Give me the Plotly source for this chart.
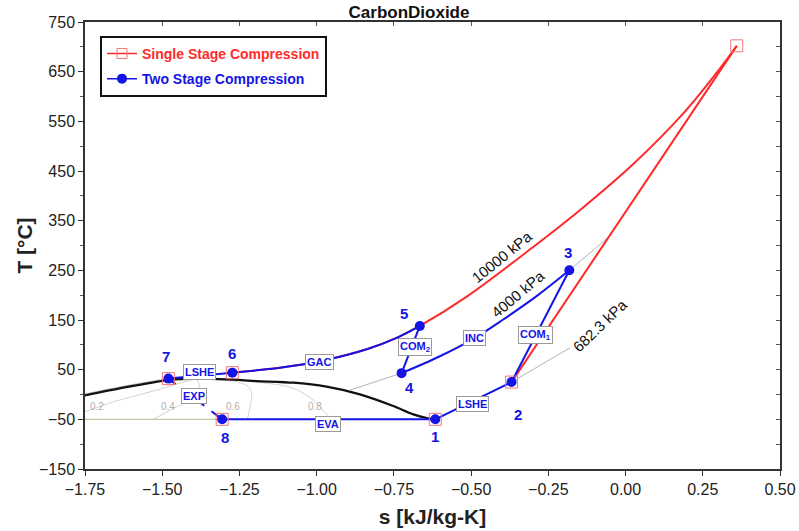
import plotly.graph_objects as go

FONT = "Arial, Liberation Sans, sans-serif"
BLUE = "#1414e6"
RED = "#ff2a2a"
PINK = "#f07878"
GRAY = "#b4b4b4"
QGRAY = "#d2d2d2"

# ---- state points of the two-stage cycle: s [kJ/kg-K], T [°C] ----
state_ids = ["1", "2", "3", "4", "5", "6", "7", "8"]
state_s = [-0.616, -0.369, -0.182, -0.725, -0.666, -1.273, -1.480, -1.306]
state_T = [-50.0, 25.0, 250.0, 43.0, 138.0, 44.0, 32.0, -50.0]

# ---- single-stage state markers (1, 2, discharge, 6, 7, 8) ----
single_s = [-0.616, -0.369, 0.360, -1.273, -1.480, -1.306]
single_T = [-50.0, 25.0, 702.0, 44.0, 32.0, -50.0]

# single-stage compression 2 -> discharge
comp_s = [-0.369, 0.360]
comp_T = [25.0, 702.0]

# 10000 kPa isobar: discharge -> state 5 -> state 6
hp_s = [0.360, 0.295, 0.187, 0.025, -0.148, -0.299, -0.514, -0.666,
        -0.741, -0.838, -0.989, -1.119, -1.273]
hp_T = [702, 648, 566, 464, 371, 297, 197, 138, 114, 91, 67, 54, 44]

# intercooler 3 -> 4 along 4000 kPa
inc_s = [-0.182, -0.288, -0.396, -0.490, -0.601, -0.725]
inc_T = [250, 198, 151, 113, 77, 43]

# saturation dome
dome_s = [-1.75, -1.626, -1.480, -1.388, -1.291, -1.194, -1.076, -0.968,
          -0.860, -0.752, -0.687, -0.640, -0.616]
dome_T = [-2.0, 13.7, 29.0, 31.8, 30.4, 27.0, 23.8, 15.7, 0.2, -23.3, -40.0,
          -48.0, -50.0]

# grey isobar extensions
hp_liq_s = [-1.75, -1.626, -1.480]
hp_liq_T = [1.0, 16.5, 32.0]
mp_low_s = [-0.892, -0.725]
mp_low_T = [9.0, 43.0]
mp_high_s = [-0.182, -0.045]
mp_high_T = [250.0, 322.0]
lp_s = [-0.369, -0.180]
lp_T = [25.0, 94.0]
lp_wet_s = [-1.75, -1.306]
lp_wet_T = [-50.0, -50.0]

# constant-quality lines
quality_labels = ["0.2", "0.4", "0.6", "0.8"]
q_s = [
    [-1.75, -1.66, -1.57, -1.49, -1.42, -1.39],
    [-1.529, -1.47, -1.41, -1.385, -1.38, -1.39],
    [-1.224, -1.215, -1.21, -1.22, -1.25, -1.30, -1.39],
    [-0.951, -0.99, -1.012, -1.077, -1.183, -1.30, -1.39],
]
q_T = [
    [-35, -15, 0, 14, 27, 31.8],
    [-50, -30, -10, 5, 20, 31.8],
    [-50, -20, 0, 15, 24, 29, 31.8],
    [-50, -25, -11, 13, 24, 30, 31.8],
]
q_label_s = [-1.712, -1.480, -1.272, -1.005]
q_label_T = [-24, -24, -24, -24]

fig = go.Figure()


def line(x, y, color, width, dash="solid", shape="linear", smoothing=1.0):
    ln = dict(color=color, width=width, dash=dash, shape=shape)
    if shape == "spline":
        ln["smoothing"] = smoothing
    fig.add_trace(go.Scatter(
        x=x, y=y, mode="lines", showlegend=False, hoverinfo="skip", line=ln))


# background property lines
for qs, qt in zip(q_s, q_T):
    line(qs, qt, QGRAY, 1, shape="spline")
line(lp_wet_s, lp_wet_T, "#c3c8a0", 1.2)
line(hp_liq_s, hp_liq_T, GRAY, 1, shape="spline")
line(mp_low_s, mp_low_T, GRAY, 1)
line(mp_high_s, mp_high_T, GRAY, 1)
line(lp_s, lp_T, GRAY, 1)
line(dome_s, dome_T, "#111111", 2.2, shape="spline", smoothing=0.7)

# single-stage cycle
line(comp_s, comp_T, RED, 2)
line(hp_s, hp_T, RED, 2, shape="spline")

# two-stage cycle
S = dict(zip(state_ids, zip(state_s, state_T)))
line([S["1"][0], S["2"][0]], [S["1"][1], S["2"][1]], BLUE, 2)
line([S["2"][0], S["3"][0]], [S["2"][1], S["3"][1]], BLUE, 2)
line(inc_s, inc_T, BLUE, 2, shape="spline")
line([S["4"][0], S["5"][0]], [S["4"][1], S["5"][1]], BLUE, 2)
gac_start = hp_s.index(S["5"][0])
line(hp_s[gac_start:], hp_T[gac_start:], BLUE, 2, shape="spline")
line([S["6"][0], S["7"][0]], [S["6"][1], S["7"][1]], BLUE, 2)
line([S["7"][0], S["8"][0]], [S["7"][1], S["8"][1]], BLUE, 2, dash="dash")
line([S["8"][0], S["1"][0]], [S["8"][1], S["1"][1]], BLUE, 2)

# state markers
fig.add_trace(go.Scatter(
    x=single_s, y=single_T, mode="markers", showlegend=False, hoverinfo="skip",
    marker=dict(symbol="square-open", size=12, color=PINK, line=dict(width=1))))
fig.add_trace(go.Scatter(
    x=state_s, y=state_T, mode="markers", showlegend=False, hoverinfo="skip",
    marker=dict(symbol="circle", size=10, color=BLUE)))

# legend entries
fig.add_trace(go.Scatter(
    x=[None], y=[None], mode="lines+markers", legendgroup="a",
    name=f"<span style='color:{RED}'><b>Single Stage Compression</b></span>",
    line=dict(color=RED, width=1.5),
    marker=dict(symbol="square-open", size=10, color=PINK, line=dict(width=1))))
fig.add_trace(go.Scatter(
    x=[None], y=[None], mode="lines+markers", legendgroup="b",
    name=f"<span style='color:{BLUE}'><b>Two Stage Compression</b></span>",
    line=dict(color=BLUE, width=1.5),
    marker=dict(symbol="circle", size=10, color=BLUE)))

# mirrored frame axes (top / right)
fig.add_trace(go.Scatter(x=[None], y=[None], xaxis="x2", yaxis="y2",
                         showlegend=False, hoverinfo="skip"))

annotations = []

# state numbers
num_shift = {"1": (0, -17), "2": (6, -32), "3": (-1, 18), "4": (8, -14),
             "5": (-16, 12), "6": (0, 19), "7": (-2, 22), "8": (3, -18)}
for sid, s, t in zip(state_ids, state_s, state_T):
    dx, dy = num_shift[sid]
    annotations.append(dict(x=s, y=t, text=f"<b>{sid}</b>", showarrow=False,
                            xshift=dx, yshift=dy,
                            font=dict(family=FONT, size=15, color=BLUE)))

# process tags
process_tags = [
    ("LSHE", -0.494, -18.5), ("COM<sub>1</sub>", -0.290, 119.4),
    ("INC", -0.488, 112.8), ("COM<sub>2</sub>", -0.682, 96.1),
    ("GAC", -0.991, 66.0), ("LSHE", -1.378, 45.1),
    ("EXP", -1.396, -3.2), ("EVA", -0.962, -58.7),
]
for txt, s, t in process_tags:
    annotations.append(dict(x=s, y=t, text=f"<b>{txt}</b>", showarrow=False,
                            bgcolor="white", bordercolor="#9a9a9a",
                            borderwidth=1, borderpad=1,
                            font=dict(family=FONT, size=11, color=BLUE)))

# isobar labels
for txt, s, t, ang in [("10000 kPa", -0.399, 277, -39),
                       ("4000 kPa", -0.347, 203, -40),
                       ("682.3 kPa", -0.083, 139, -44)]:
    annotations.append(dict(x=s, y=t, text=txt, showarrow=False, textangle=ang,
                            font=dict(family=FONT, size=15, color="#111111")))

# quality labels
for txt, s, t in zip(quality_labels, q_label_s, q_label_T):
    annotations.append(dict(x=s, y=t, text=txt, showarrow=False,
                            font=dict(family=FONT, size=10, color="#b0b0b0")))

axis_common = dict(showgrid=False, zeroline=False, showline=True,
                   linecolor="#333333", linewidth=1.5, automargin=False)

fig.update_layout(
    width=799, height=531,
    margin=dict(l=85, r=19, t=22, b=62, autoexpand=False),
    paper_bgcolor="white", plot_bgcolor="white",
    font=dict(family=FONT, color="#222222"),
    title=dict(text="<b>CarbonDioxide</b>", x=409 / 799, xref="container",
               xanchor="center", y=1 - 12 / 531, yref="container",
               yanchor="middle",
               font=dict(family=FONT, size=17, color="#111111")),
    xaxis=dict(range=[-1.75, 0.5], dtick=0.25, tick0=-1.75, tickformat=".2f",
               ticks="outside", ticklen=5, tickcolor="#333333",
               tickfont=dict(size=16),
               title=dict(text="<b>s [kJ/kg-K]</b>", font=dict(size=21), standoff=12),
               **axis_common),
    yaxis=dict(range=[-150, 750], dtick=100, tick0=-150,
               ticks="outside", ticklen=5, tickcolor="#333333",
               tickfont=dict(size=16),
               minor=dict(dtick=50, ticks="outside", ticklen=3, tickcolor="#555555"),
               title=dict(text="<b>T [°C]</b>", font=dict(size=21), standoff=1),
               **axis_common),
    xaxis2=dict(range=[-1.75, 0.5], overlaying="x", side="top", anchor="y2",
                dtick=0.25, tick0=-1.75, ticks="inside", ticklen=4,
                tickcolor="#555555", showticklabels=False, **axis_common),
    yaxis2=dict(range=[-150, 750], overlaying="y", side="right", anchor="x2",
                dtick=50, tick0=-150, ticks="inside", ticklen=4,
                tickcolor="#555555", showticklabels=False, **axis_common),
    legend=dict(x=0.0216, y=0.969, xanchor="left", yanchor="top",
                bgcolor="white", bordercolor="#111111", borderwidth=2,
                font=dict(family=FONT, size=14), tracegroupgap=4,
                itemwidth=30),
    annotations=annotations,
)

fig.write_html("out.html")
